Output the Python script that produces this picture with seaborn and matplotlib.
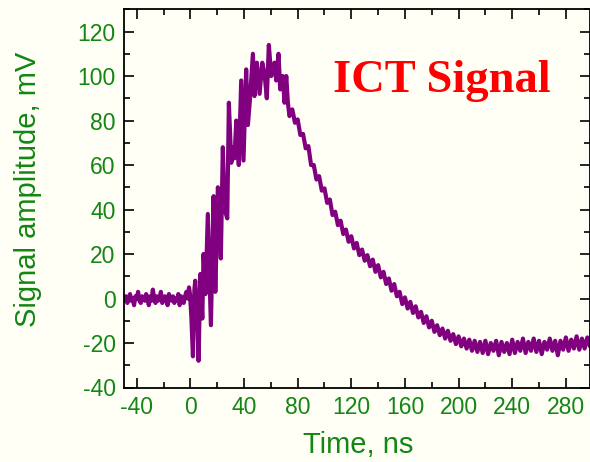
import numpy as np
import pandas as pd
import matplotlib
matplotlib.use("Agg")
import matplotlib.pyplot as plt
import seaborn as sns
from matplotlib.ticker import MultipleLocator

# ---- data ----
t_base = list(range(-50, 0))  # ns
v_base = [0, -1, 1, -2, 0, 2, -1, 0, -3, 1,
          0, 3, -1, -2, 1, 0, -1, 2, 0, -3,
          1, -1, 4, 0, -2, 1, -1, 0, 3, -2,
          0, 1, -1, -3, 2, 0, -1, 1, -2, 0,
          -1, 2, -3, 1, 0, -2, 1, 3, 0, 5]

t_rise = [-0.3, 0.7, 1.9, 3.0, 3.6, 5.0, 6.1, 7.4, 8.9, 9.8,
          11.3, 13.0, 15.3, 17.3, 18.6, 20.5, 21.5, 22.7, 24.2, 25.5,
          27.5, 28.7, 30.5, 31.7, 32.9, 34.2, 36.1, 37.9, 39.6, 41.6,
          42.9, 44.6, 46.6, 47.8, 49.6, 51.6, 53.6, 55.3, 57.0, 58.5,
          60.3, 62.7, 64.0, 65.7, 67.0, 68.9, 70.2, 71.5, 72.7, 73.9]
v_rise = [2, -8, -26, 4, 8, -5, -28, 11, -9, 20,
          2, 38, -12, 46, 3, 50, 44, 18, 68, 40,
          36, 88, 61, 68, 63, 80, 60, 98, 62, 103,
          78, 91, 110, 91, 106, 92, 106, 101, 90, 114,
          100, 106, 98, 110, 94, 100, 88, 100, 88, 82]

t_decay = list(range(76, 300, 2))
v_decay = [85, 79, 80.5, 73.5, 74, 67.5, 68.5, 60, 60, 53.5,
           55, 48.5, 49.5, 43, 44.5, 37.5, 39, 33, 35, 29,
           31, 25.5, 28, 22.5, 25, 19.5, 22, 17, 19.5, 14.5,
           17.5, 12, 15, 9.5, 12, 6.5, 9, 3.5, 6.5, 1,
           3, -2.5, 0.5, -4.5, -1.5, -6.5, -3.5, -8.5, -6, -11,
           -8, -13, -10, -15, -12, -16.5, -13.5, -18, -14.5, -19,
           -16, -20.5, -17, -21.5, -18, -22.5, -18.5, -23.5,
           -19, -24, -19.5, -24.5, -19, -25, -20, -23.5, -19, -25.5,
           -19.5, -24, -20, -25, -18.5, -24.5, -19.5, -23.5, -18, -24.5,
           -19.5, -23.5, -18, -24, -19, -25, -19.5, -23, -18, -23.5,
           -19, -25.5, -19, -23, -17.5, -23.5, -18.5, -22.5, -17, -23,
           -18, -22.5, -17.5, -21.5]

assert len(t_base) == len(v_base)
assert len(t_rise) == len(v_rise)
assert len(t_decay) == len(v_decay)

x_ticks = [-40, 0, 40, 80, 120, 160, 200, 240, 280]
y_ticks = [-40, -20, 0, 20, 40, 60, 80, 100, 120]

df = pd.DataFrame({
    "Time, ns": t_base + t_rise + t_decay,
    "Signal amplitude, mV": v_base + v_rise + v_decay,
})

# ---- style ----
sns.set_theme(style="ticks")
plt.rcParams["font.family"] = ["Liberation Sans", "DejaVu Sans"]
plt.rcParams["axes.unicode_minus"] = False

BG = "#FFFFF6"
GREEN = "#138613"
PURPLE = "#800080"

fig = plt.figure(figsize=(5.90, 4.62), dpi=100, facecolor=BG)
ax = fig.add_axes([124 / 590, 1 - 387.5 / 462, 466 / 590, (387.5 - 9.3) / 462])
ax.set_facecolor(BG)

sns.lineplot(data=df, x="Time, ns", y="Signal amplitude, mV", ax=ax,
             color=PURPLE, linewidth=3.0, sort=False, estimator=None)

ax.set_xlim(-49.5, 298)
ax.set_ylim(-40, 130)
ax.set_xticks(x_ticks)
ax.set_yticks(y_ticks)
ax.xaxis.set_minor_locator(MultipleLocator(20))
ax.yaxis.set_minor_locator(MultipleLocator(10))

for s in ax.spines.values():
    s.set_visible(True)
    s.set_color("black")
    s.set_linewidth(1.3)

ax.tick_params(which="both", direction="in", top=True, right=True,
               color="black", width=1.2)
ax.tick_params(which="major", length=7, labelsize=16.5,
               labelcolor=GREEN, pad=6)
ax.tick_params(which="minor", length=4)

ax.set_xlabel("Time, ns", fontsize=21, color=GREEN)
ax.set_ylabel("Signal amplitude, mV", fontsize=21, color=GREEN)
ax.xaxis.set_label_coords(0.502, -0.115)
ax.yaxis.set_label_coords(-0.176, 0.525)

ax.text(0.4485, 0.781, "ICT Signal", transform=ax.transAxes,
        fontsize=33.5, fontweight="bold", color="red",
        family=["Liberation Serif", "DejaVu Serif"], va="baseline", ha="left")

fig.savefig("out.png", dpi=100, facecolor=BG)
